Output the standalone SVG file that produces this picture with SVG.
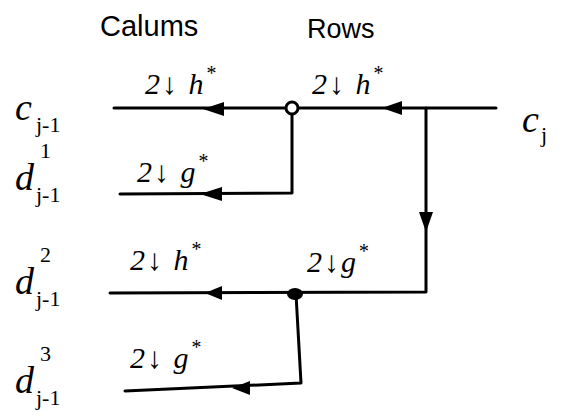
<svg xmlns="http://www.w3.org/2000/svg" width="571" height="416" viewBox="0 0 571 416">
<defs>
<style>
.ln{stroke:#000;stroke-width:3;fill:none;stroke-linecap:round;stroke-linejoin:round}
.ah{fill:#000}
.t{font-family:"Liberation Serif",serif;font-style:italic;fill:#000;font-size:38px}
.lb{font-family:"Liberation Serif",serif;font-style:italic;fill:#000;font-size:30px;letter-spacing:2px}
.sup{font-size:20px}
.n{font-family:"Liberation Serif",serif;fill:#000;font-size:22px}
.h{font-family:"Liberation Sans",sans-serif;fill:#000}
</style>
</defs>
<rect width="571" height="416" fill="#fff"/>
<text class="h" x="100" y="36" font-size="29">Calums</text>
<text class="h" x="307" y="38" font-size="27">Rows</text>
<g id="connectors">
<line class="ln" x1="114" y1="108" x2="286" y2="108"/>
<line class="ln" x1="298" y1="108" x2="496" y2="108"/>
<polyline class="ln" points="292,114 292,193 120,194"/>
<polyline class="ln" points="426,108 426,292 110,293"/>
<polyline class="ln" points="296,294 301,383 125,391"/>
<polygon class="ah" points="203,109 224,102 224,116"/>
<polygon class="ah" points="382,108 402,101 402,115"/>
<polygon class="ah" points="200,194 222,187 222,201"/>
<polygon class="ah" points="205,293 222,286 222,300"/>
<polygon class="ah" points="232,388 250,381 250,395"/>
<polygon class="ah" points="426,232 419,212 433,212"/>
</g>
<g id="split1"><circle cx="292" cy="108" r="6" fill="#fff" stroke="#000" stroke-width="3"/></g>
<g id="split2"><ellipse cx="295" cy="294" rx="8" ry="6" fill="#000"/></g>
<g id="c_j"><text class="t" x="522" y="132">c</text><text class="n" x="541" y="142">j</text></g>
<g id="c_j-1"><text class="t" x="15" y="120">c</text><text class="n" x="36" y="132">j-1</text></g>
<g id="d1"><text class="t" x="15" y="190">d</text><text class="n" x="40" y="158">1</text><text class="n" x="36" y="202">j-1</text></g>
<g id="d2"><text class="t" x="15" y="294">d</text><text class="n" x="40" y="262">2</text><text class="n" x="36" y="306">j-1</text></g>
<g id="d3"><text class="t" x="15" y="393">d</text><text class="n" x="40" y="361">3</text><text class="n" x="36" y="405">j-1</text></g>
<g id="lab1"><text class="lb" x="145" y="94">2↓ h<tspan class="sup" dy="-14">*</tspan></text></g>
<g id="lab2"><text class="lb" x="312" y="94">2↓ h<tspan class="sup" dy="-14">*</tspan></text></g>
<g id="lab3"><text class="lb" x="137" y="182">2↓ g<tspan class="sup" dy="-14">*</tspan></text></g>
<g id="lab4"><text class="lb" x="130" y="270">2↓ h<tspan class="sup" dy="-14">*</tspan></text></g>
<g id="lab5"><text class="lb" x="307" y="272">2↓g<tspan class="sup" dy="-14">*</tspan></text></g>
<g id="lab6"><text class="lb" x="130" y="368">2↓ g<tspan class="sup" dy="-14">*</tspan></text></g>
</svg>
